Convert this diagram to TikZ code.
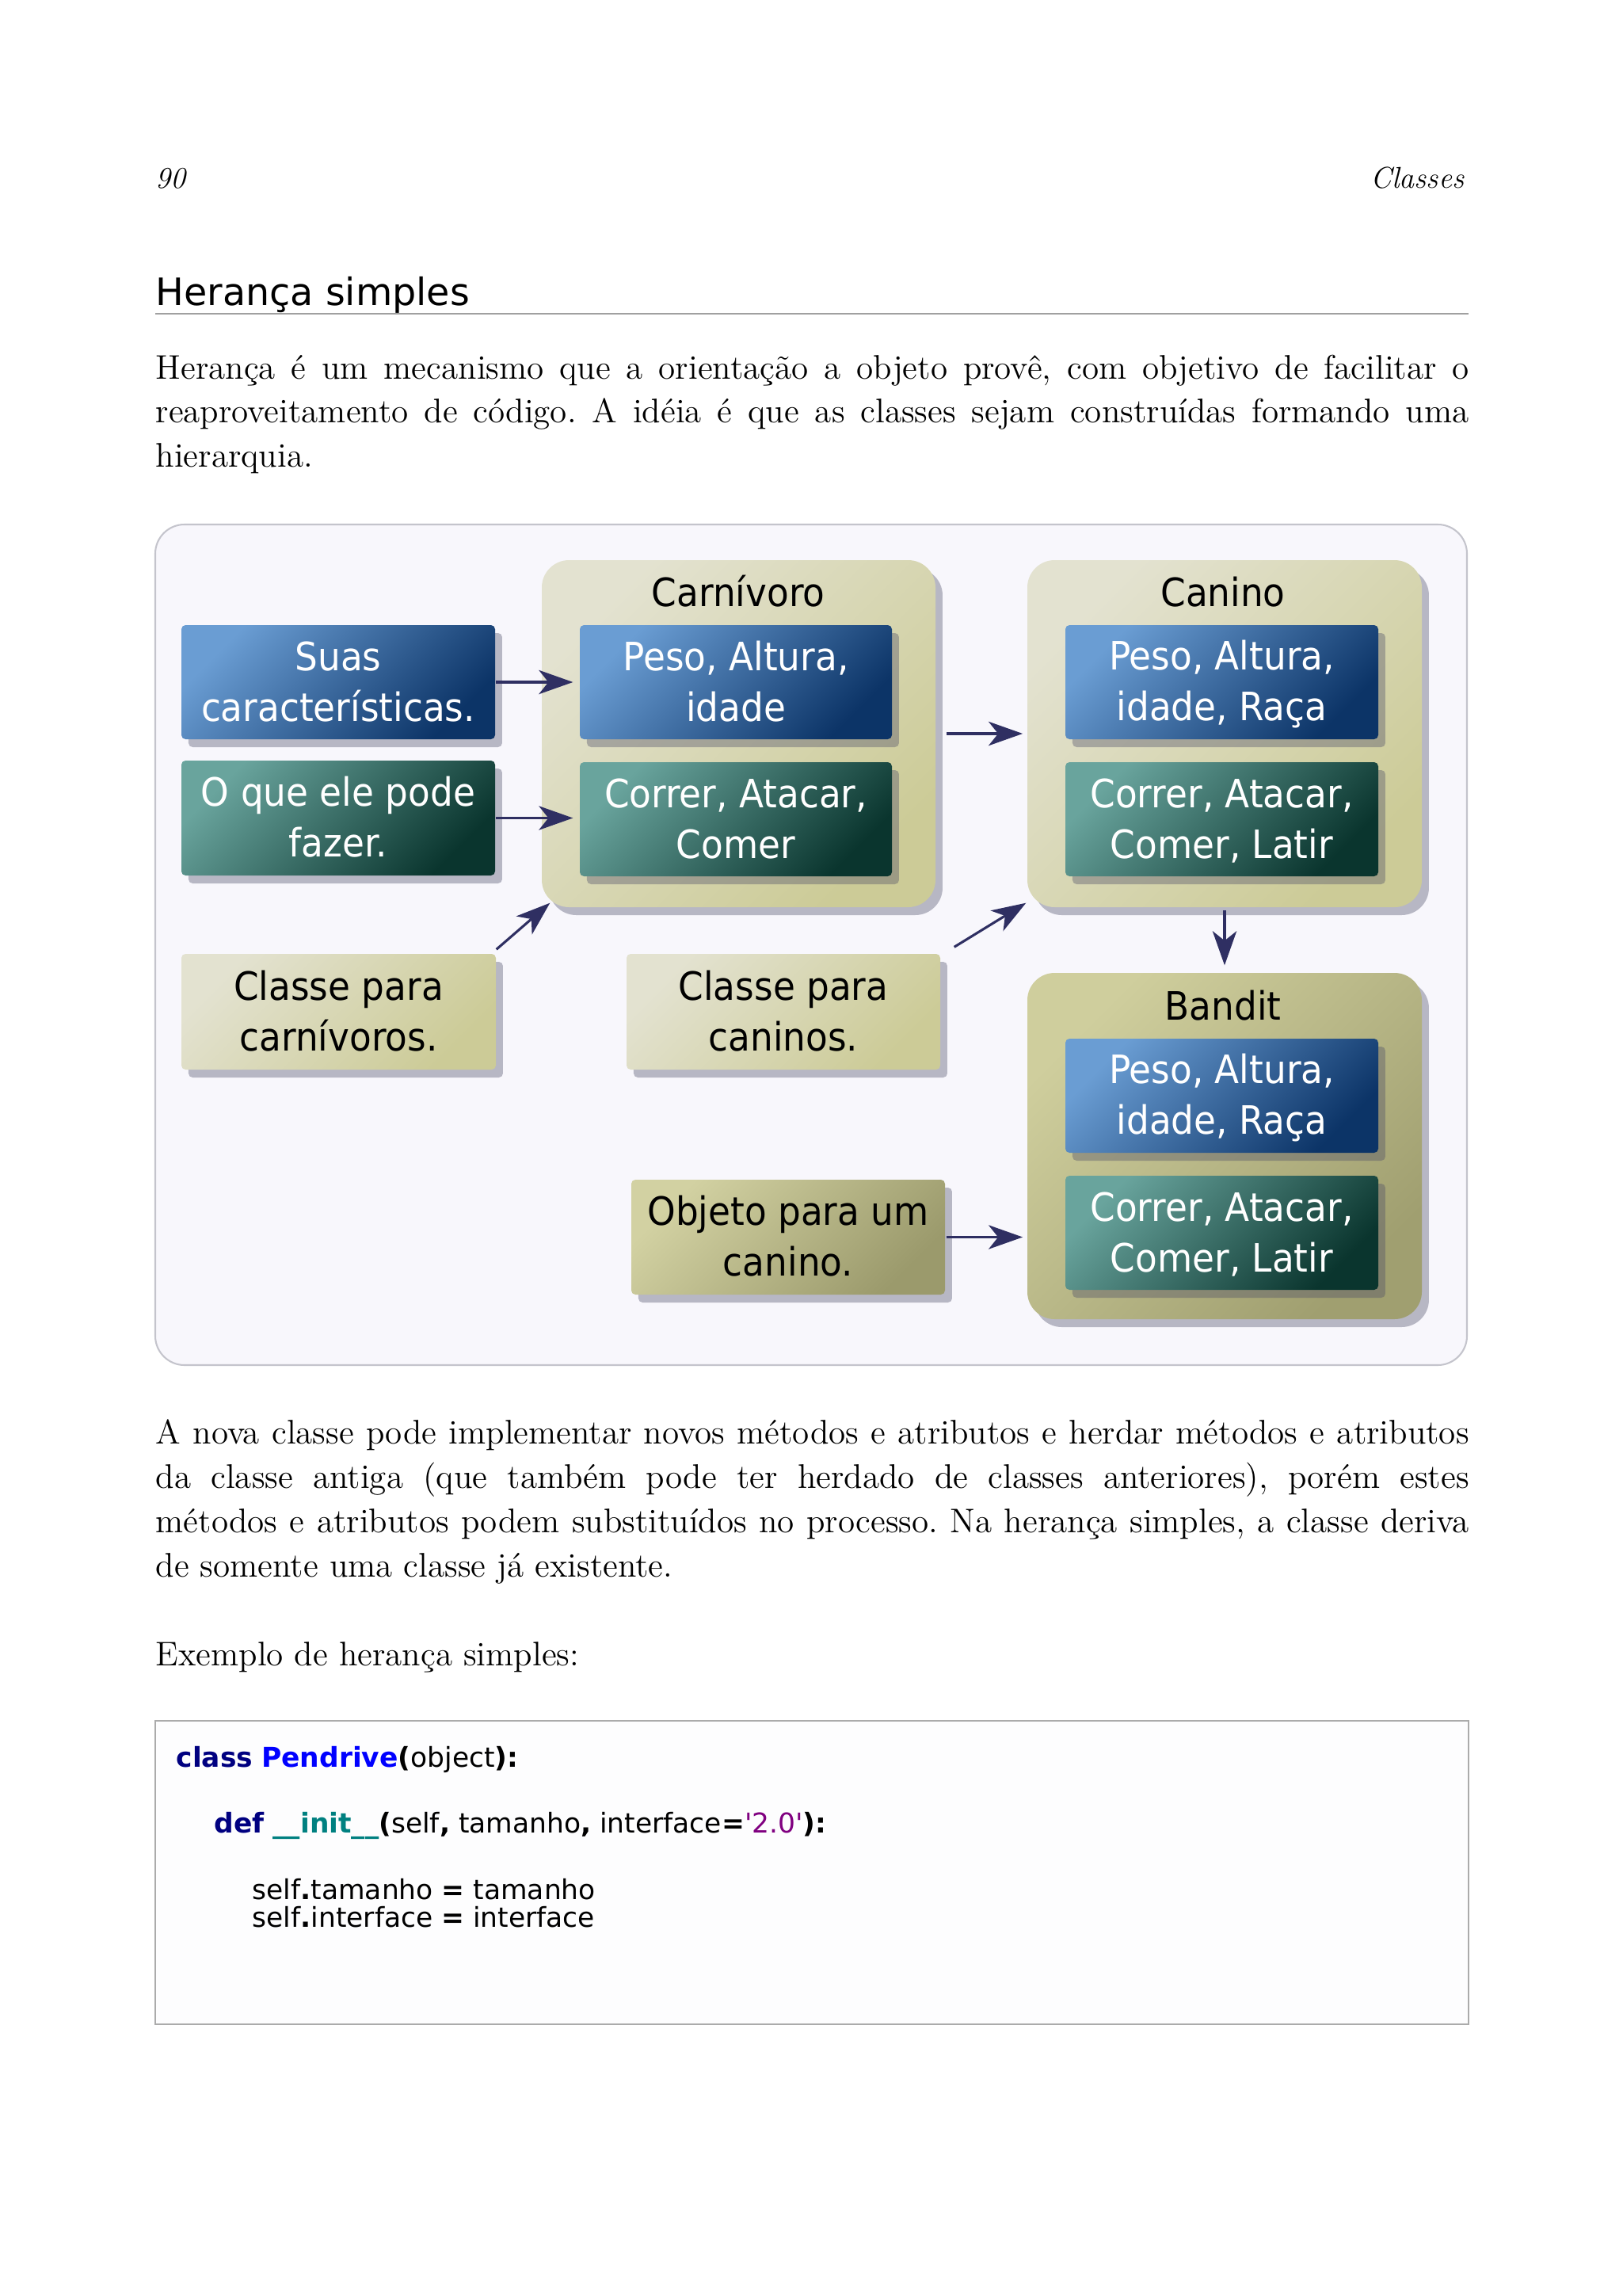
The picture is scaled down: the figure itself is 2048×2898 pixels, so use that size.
\documentclass[tikz,border=0pt]{standalone}
\usepackage{fontspec}
\newfontfamily\dfont[FakeStretch=0.92]{DejaVu Sans}
\newfontfamily\hfont{DejaVu Sans}
\usetikzlibrary{arrows.meta,calc,shadows}
\frenchspacing
\definecolor{pagebg}{HTML}{FFFFFF}
\definecolor{framebg}{HTML}{F8F7FC}
\definecolor{framedraw}{HTML}{C4C4CC}
\definecolor{bluea}{HTML}{6A9DD3}
\definecolor{blueb}{HTML}{0C3467}
\definecolor{greena}{HTML}{69A49D}
\definecolor{greenb}{HTML}{0A352E}
\definecolor{khakia}{HTML}{E3E2D0}
\definecolor{khakib}{HTML}{CCCB97}
\definecolor{banda}{HTML}{CFCE9D}
\definecolor{bandb}{HTML}{A09F70}
\definecolor{obja}{HTML}{D2D1A2}
\definecolor{objb}{HTML}{9B9A6C}
\definecolor{shadowc}{HTML}{4A4A66}
\definecolor{arrowc}{HTML}{2F2F62}
\definecolor{rulec}{HTML}{A0A0A0}
\definecolor{codedraw}{HTML}{ABABAB}
\definecolor{codebg}{HTML}{FDFDFE}
\definecolor{kwnavy}{HTML}{000080}
\definecolor{kwblue}{HTML}{0000FF}
\definecolor{kwteal}{HTML}{008080}
\definecolor{kwpurple}{HTML}{800080}
\newcommand\dtext{\dfont\fontsize{14.3}{18.6}\selectfont}
\newcommand\btext{\fontsize{12.5}{16}\selectfont}
\newcommand\ctext{\hfont\fontsize{10}{12}\selectfont}
\newcommand\twol[2]{\rule{0pt}{12.5pt}#1\\#2\rule[-2.6pt]{0pt}{2.6pt}}
\newcommand\jline[1]{\hbox to 480.8pt{#1}}
\tikzset{
  sz/.style 2 args={minimum width=#1*0.29pt, minimum height=#2*0.29pt},
  shadowed/.style={drop shadow={shadow xshift=2.6pt, shadow yshift=-2.9pt, fill=shadowc, opacity=0.37}},
  boxbase/.style={rectangle, rounded corners=1.5pt, inner sep=0pt, align=center, font=\dtext, shadowed},
  bluebox/.style={boxbase, top color=bluea, bottom color=blueb, shading angle=45, text=white},
  greenbox/.style={boxbase, top color=greena, bottom color=greenb, shading angle=45, text=white},
  notebox/.style={boxbase, top color=khakia, bottom color=khakib, shading angle=45, text=black},
  objbox/.style={boxbase, top color=obja, bottom color=objb, shading angle=45, text=black},
  classbox/.style={rectangle, rounded corners=10pt, inner sep=0pt, shadowed, top color=khakia, bottom color=khakib, shading angle=45},
  banditbox/.style={rectangle, rounded corners=10pt, inner sep=0pt, shadowed, top color=banda, bottom color=bandb, shading angle=45},
  titletext/.style={anchor=base, inner sep=0pt, font=\dtext, text=black},
  arr/.style={draw=arrowc, line width=0.9pt, -{Stealth[length=12.5pt,width=8.8pt,inset=3.5pt]}},
  bodyline/.style={anchor=base west, inner sep=0pt, font=\btext},
  codeline/.style={anchor=base west, inner sep=0pt, font=\ctext},
}
\begin{document}
\begin{tikzpicture}[x=0.29pt,y=-0.29pt]
\useasboundingbox[fill=pagebg] (0,0) rectangle (2048,2898);

% page header
\node[anchor=base west, inner sep=0pt, font=\fontsize{11}{13}\selectfont\itshape] (pnum) at (196,238) {90};
\node[anchor=base east, inner sep=0pt, font=\fontsize{11}{13}\selectfont\itshape] (chap) at (1849,238) {Classes};

% section heading
\node[anchor=base west, inner sep=0pt, font=\hfont\fontsize{13.8}{16}\selectfont] (sec) at (196,385) {Herança simples};
\coordinate (ruleL) at (196,396);
\coordinate (ruleR) at (1854,396);
\draw[rulec, line width=0.5pt] (ruleL) -- (ruleR);

% paragraph 1
\node[bodyline] (p1a) at (196,478) {\jline{Herança é um mecanismo que a orientação a objeto provê, com objetivo de facilitar o}};
\node[bodyline] (p1b) at (196,533.5) {\jline{reaproveitamento de código. A idéia é que as classes sejam construídas formando uma}};
\node[bodyline] (p1c) at (196,589) {hierarquia.};

% diagram frame
\node[rectangle, draw=framedraw, fill=framebg, line width=0.6pt, rounded corners=10.7pt, sz={1656}{1061}] (frame) at (1024,1192.5) {};

% containers
\node[classbox, sz={497}{438}] (carn) at (932.5,926) {};
\node[classbox, sz={498}{438}] (canino) at (1546,926) {};
\node[banditbox, sz={498}{437}] (bandit) at (1546,1446.5) {};

\node[titletext] (carnT) at (932,765) {Carnívoro};
\node[titletext] (caninoT) at (1544,765) {Canino};
\node[titletext] (banditT) at (1544,1287) {Bandit};

% left boxes
\node[bluebox, sz={396}{144}] (suas) at (427,861) {\twol{Suas}{características.}};
\node[greenbox, sz={396}{145}] (oque) at (427,1032.5) {\twol{O que ele pode}{fazer.}};

% inner boxes
\node[bluebox, sz={394}{144}] (cpeso) at (929,861) {\twol{Peso, Altura,}{idade}};
\node[greenbox, sz={394}{144}] (ccor) at (929,1034) {\twol{Correr, Atacar,}{Comer}};
\node[bluebox, sz={395}{144}] (kpeso) at (1542.5,861) {\twol{Peso, Altura,}{idade, Raça}};
\node[greenbox, sz={395}{144}] (kcor) at (1542.5,1034) {\twol{Correr, Atacar,}{Comer, Latir}};
\node[bluebox, sz={395}{144}] (bpeso) at (1542.5,1383) {\twol{Peso, Altura,}{idade, Raça}};
\node[greenbox, sz={395}{144}] (bcor) at (1542.5,1556) {\twol{Correr, Atacar,}{Comer, Latir}};

% note boxes
\node[notebox, sz={397}{146}] (ccarn) at (427.5,1277) {\twol{Classe para}{carnívoros.}};
\node[notebox, sz={396}{146}] (ccan) at (989,1277) {\twol{Classe para}{caninos.}};
\node[objbox, sz={396}{145}] (obj) at (995,1561.5) {\twol{Objeto para um}{canino.}};

% connectors
\draw[arr, shorten >=2.3pt] (suas.east) -- (suas.east -| cpeso.west);
\draw[arr, shorten >=2.3pt] (oque.east) -- (oque.east -| ccor.west);
\draw[arr, shorten <=3.8pt, shorten >=1.5pt] (carn.east) -- (canino.west);
\draw[arr] ($(ccarn.north east)+(0,-5)$) -- ($(carn.south west)+(11,-6)$);
\draw[arr] ($(ccan.north east)+(17,-8)$) -- ($(canino.south west)+(-1,-6)$);
\draw[arr, shorten <=1pt, shorten >=2.6pt] (canino.south) -- (bandit.north);
\draw[arr, shorten <=0.3pt, shorten >=1.5pt] (obj.east) -- (obj.east -| bandit.west);

% paragraph 2
\node[bodyline] (p2a) at (196,1822.5) {\jline{A nova classe pode implementar novos métodos e atributos e herdar métodos e atributos}};
\node[bodyline] (p2b) at (196,1878) {\jline{da classe antiga (que também pode ter herdado de classes anteriores), porém estes}};
\node[bodyline] (p2c) at (196,1934.5) {\jline{métodos e atributos podem substituídos no processo. Na herança simples, a classe deriva}};
\node[bodyline] (p2d) at (196,1990.5) {de somente uma classe já existente.};

\node[bodyline] (p3) at (196,2102.5) {Exemplo de herança simples:};

% code block
\node[rectangle, draw=codedraw, fill=codebg, line width=0.5pt, sz={1658}{383}] (code) at (1025,2363.5) {};
\node[codeline] (c1) at (222,2230) {{\bfseries\color{kwnavy}class} {\bfseries\color{kwblue}Pendrive}\textbf{(}object\textbf{):}};
\node[codeline] (c2) at (270,2313) {{\bfseries\color{kwnavy}def} {\bfseries\color{kwteal}\_\_init\_\_}\textbf{(}self\textbf{,} tamanho\textbf{,} interface\textbf{=}{\color{kwpurple}'2.0'}\textbf{):}};
\node[codeline] (c3) at (318,2397) {self\textbf{.}tamanho \textbf{=} tamanho};
\node[codeline] (c4) at (318,2432) {self\textbf{.}interface \textbf{=} interface};
\end{tikzpicture}
\end{document}
